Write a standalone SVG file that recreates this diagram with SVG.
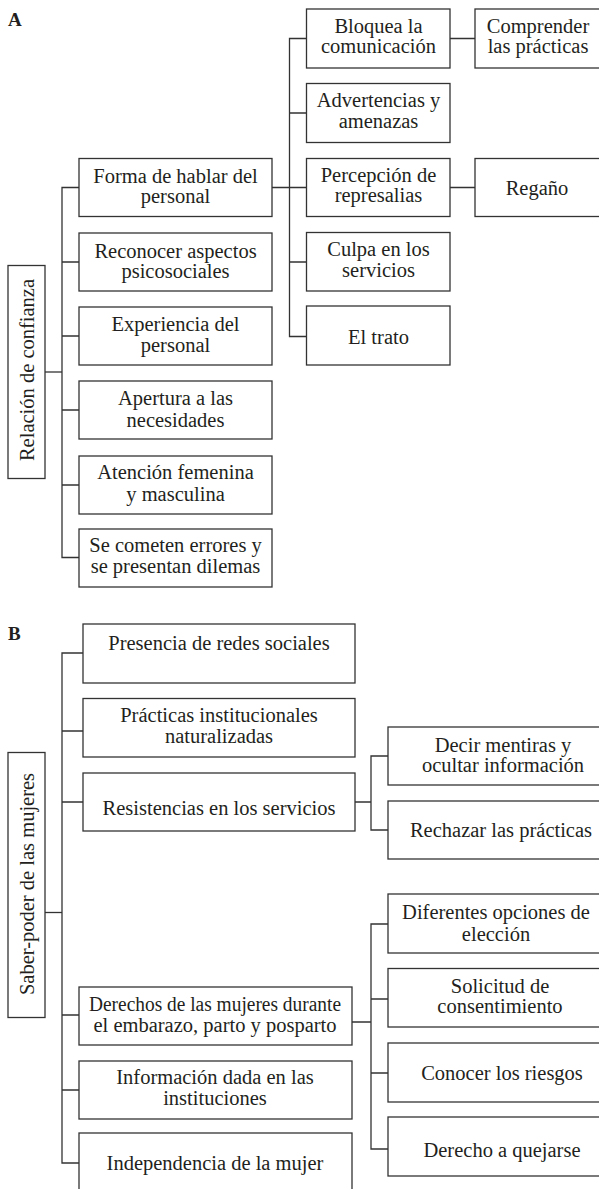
<svg xmlns="http://www.w3.org/2000/svg" width="599" height="1189" viewBox="0 0 599 1189">
<style>
.box{fill:#fff;stroke:#333;stroke-width:1.3}
.t{font-family:'Liberation Serif','Times New Roman',Tinos,'DejaVu Serif','Noto Serif',Times,serif;font-size:20.5px;fill:#231f20;text-anchor:middle}
.lbl{font-family:'Liberation Serif','Times New Roman',Tinos,'DejaVu Serif','Noto Serif',Times,serif;font-size:19px;font-weight:bold;fill:#231f20}
.c{fill:none;stroke:#333;stroke-width:1.3}
</style>
<rect width="599" height="1189" fill="#fff"/>
<text class="lbl" x="8" y="26">A</text>
<text class="lbl" x="8" y="640">B</text>
<g id="connectors">
<path class="c" d="M45,372 H62"/>
<path class="c" d="M79,187.5 H62 V557.5 H79 M62,262 H79 M62,336 H79 M62,410 H79 M62,485 H79"/>
<path class="c" d="M272,187.5 H306.5 M306.5,38.5 H289.5 V336.5 H306.5 M289.5,113 H306.5 M289.5,262 H306.5"/>
<path class="c" d="M450,38.5 H475 M450,187.5 H475"/>
<path class="c" d="M45,912.5 H62"/>
<path class="c" d="M83,653 H62 V1163 H79 M62,731 H83 M62,802 H83 M62,1015 H79 M62,1090 H79"/>
<path class="c" d="M355,802 H371 M388,756 H371 V830 H388"/>
<path class="c" d="M352,1022 H371 M388,924 H371 V1149 H388 M371,999 H388 M371,1073 H388"/>
</g>
<g id="rootA"><rect class="box" x="8" y="265.5" width="37" height="213"/><text class="t" transform="translate(33.5,370) rotate(-90)">Relación de confianza</text></g>
<g id="a1"><rect class="box" x="79" y="158.5" width="193" height="58"/><text class="t" x="175.5" y="183">Forma de hablar del</text><text class="t" x="175.5" y="203">personal</text></g>
<g id="a2"><rect class="box" x="79" y="233" width="193" height="58"/><text class="t" x="175.5" y="258">Reconocer aspectos</text><text class="t" x="175.5" y="278">psicosociales</text></g>
<g id="a3"><rect class="box" x="79" y="307" width="193" height="58"/><text class="t" x="175.5" y="331">Experiencia del</text><text class="t" x="175.5" y="352">personal</text></g>
<g id="a4"><rect class="box" x="79" y="381" width="193" height="58"/><text class="t" x="175.5" y="405">Apertura a las</text><text class="t" x="175.5" y="427">necesidades</text></g>
<g id="a5"><rect class="box" x="79" y="456" width="193" height="58"/><text class="t" x="175.5" y="479">Atención femenina</text><text class="t" x="175.5" y="501">y masculina</text></g>
<g id="a6"><rect class="box" x="79" y="529" width="193" height="58"/><text class="t" x="175.5" y="552">Se cometen errores y</text><text class="t" x="175.5" y="573">se presentan dilemas</text></g>
<g id="a11"><rect class="box" x="306.5" y="9" width="143.5" height="59"/><text class="t" x="378.5" y="33">Bloquea la</text><text class="t" x="378.5" y="53">comunicación</text></g>
<g id="a12"><rect class="box" x="306.5" y="83.5" width="143.5" height="59"/><text class="t" x="378.5" y="107">Advertencias y</text><text class="t" x="378.5" y="128">amenazas</text></g>
<g id="a13"><rect class="box" x="306.5" y="158.5" width="143.5" height="58"/><text class="t" x="378.5" y="182">Percepción de</text><text class="t" x="378.5" y="202">represalias</text></g>
<g id="a14"><rect class="box" x="306.5" y="232.5" width="143.5" height="58.5"/><text class="t" x="378.5" y="256">Culpa en los</text><text class="t" x="378.5" y="277">servicios</text></g>
<g id="a15"><rect class="box" x="306.5" y="306" width="143.5" height="59"/><text class="t" x="378.5" y="344">El trato</text></g>
<g id="a111"><rect class="box" x="475" y="9" width="135" height="59"/><text class="t" x="538" y="33">Comprender</text><text class="t" x="538" y="53">las prácticas</text></g>
<g id="a131"><rect class="box" x="475" y="158.5" width="135" height="58"/><text class="t" x="537" y="195">Regaño</text></g>
<g id="rootB"><rect class="box" x="8" y="752.5" width="37" height="265"/><text class="t" transform="translate(33.5,884) rotate(-90)">Saber-poder de las mujeres</text></g>
<g id="b1"><rect class="box" x="83" y="624" width="272" height="59"/><text class="t" x="219" y="650">Presencia de redes sociales</text></g>
<g id="b2"><rect class="box" x="83" y="698.5" width="272" height="58.5"/><text class="t" x="219" y="722">Prácticas institucionales</text><text class="t" x="219" y="743">naturalizadas</text></g>
<g id="b3"><rect class="box" x="83" y="773" width="272" height="58"/><text class="t" x="219" y="815">Resistencias en los servicios</text></g>
<g id="b31"><rect class="box" x="388" y="727" width="230" height="58"/><text class="t" x="503" y="752">Decir mentiras y</text><text class="t" x="503" y="772">ocultar información</text></g>
<g id="b32"><rect class="box" x="388" y="801" width="230" height="58"/><text class="t" x="501" y="837">Rechazar las prácticas</text></g>
<g id="b4"><rect class="box" x="79" y="987" width="273" height="58"/><text class="t" x="215" y="1011" textLength="252" lengthAdjust="spacingAndGlyphs">Derechos de las mujeres durante</text><text class="t" x="215" y="1032">el embarazo, parto y posparto</text></g>
<g id="b5"><rect class="box" x="79" y="1061" width="273" height="58"/><text class="t" x="215" y="1084">Información dada en las</text><text class="t" x="215" y="1105">instituciones</text></g>
<g id="b6"><rect class="box" x="79" y="1133" width="273" height="70"/><text class="t" x="215" y="1170">Independencia de la mujer</text></g>
<g id="b41"><rect class="box" x="388" y="894" width="230" height="59"/><text class="t" x="496" y="919">Diferentes opciones de</text><text class="t" x="496" y="941">elección</text></g>
<g id="b42"><rect class="box" x="388" y="968.5" width="230" height="58.5"/><text class="t" x="500" y="993">Solicitud de</text><text class="t" x="500" y="1013">consentimiento</text></g>
<g id="b43"><rect class="box" x="388" y="1043" width="230" height="59"/><text class="t" x="502" y="1080">Conocer los riesgos</text></g>
<g id="b44"><rect class="box" x="388" y="1117" width="230" height="59"/><text class="t" x="502" y="1157">Derecho a quejarse</text></g>
</svg>
